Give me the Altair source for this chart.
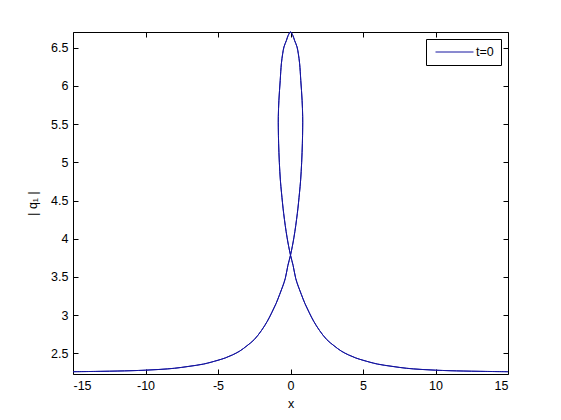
import altair as alt
import pandas as pd

# Path of the loop curve, in drawing order
tail_left_x = [-15, -13, -11, -10, -9, -8, -7, -6, -5, -4.5, -4, -3.5, -3, -2.5, -2, -1.6, -1.3, -1.0, -0.75, -0.55, -0.36, -0.18, 0]
tail_left_y = [2.26, 2.265, 2.273, 2.28, 2.29, 2.305, 2.33, 2.36, 2.41, 2.44, 2.48, 2.53, 2.60, 2.68, 2.80, 2.92, 3.03, 3.15, 3.27, 3.37, 3.48, 3.65, 3.785]
loop_right_x = [0.24, 0.47, 0.62, 0.70, 0.77, 0.82, 0.84, 0.84, 0.80, 0.71, 0.63, 0.54, 0.45, 0.28, 0.16, 0]
loop_right_y = [4.02, 4.33, 4.60, 4.77, 5.00, 5.25, 5.45, 5.60, 5.81, 6.07, 6.29, 6.42, 6.51, 6.595, 6.66, 6.705]

x_ticks = [-15, -10, -5, 0, 5, 10, 15]
y_ticks = [2.5, 3, 3.5, 4, 4.5, 5, 5.5, 6, 6.5]
series_name = "t=0"

# assemble path: left tail -> right side of loop (up) -> left side (down) -> right tail
px = tail_left_x + loop_right_x
py = tail_left_y + loop_right_y
px += [-v for v in reversed(loop_right_x[:-1])] + [0]
py += list(reversed(loop_right_y[:-1])) + [3.785]
px += [-v for v in reversed(tail_left_x[:-1])]
py += list(reversed(tail_left_y[:-1]))

df = pd.DataFrame({"x": px, "y": py, "order": range(len(px)), "series": series_name})

FONT = "Liberation Sans"
FS = 12.5
COL = "#1414a0"

xs = alt.Scale(domain=[-15, 15], nice=False, zero=False)
ys = alt.Scale(domain=[2.23, 6.705], nice=False, zero=False)

common_axis = dict(grid=False, domain=False, tickSize=5, offset=-5, tickColor="black",
                   labelColor="black", labelFont=FONT, labelFontSize=FS, titleFont=FONT,
                   titleFontSize=FS, titleColor="black", titleFontWeight="normal")

main = alt.Chart(df).mark_line(strokeWidth=1, interpolate="catmull-rom").encode(
    x=alt.X("x:Q", scale=xs, axis=alt.Axis(orient="bottom", values=x_ticks, labelExpr="'' + datum.value",
                                           labelPadding=5, title="x", titlePadding=6, **common_axis)),
    y=alt.Y("y:Q", scale=ys, axis=alt.Axis(orient="left", values=y_ticks, labelExpr="'' + datum.value",
                                           labelPadding=5, title="| q₁ |", titlePadding=11, **common_axis)),
    color=alt.Color("series:N", scale=alt.Scale(range=[COL]),
                    legend=alt.Legend(title=None, orient="top-right", offset=7,
                                      symbolType="M-0.583,0H5.75", symbolSize=144,
                                      symbolStrokeWidth=1, labelFont=FONT,
                                      labelFontSize=FS, labelColor="black", strokeColor="black",
                                      fillColor="white", padding=6.5, labelOffset=30.5)),
    order="order:Q",
)

mirror = alt.Chart(df).mark_line(strokeWidth=1, interpolate="catmull-rom").encode(
    x=alt.X("x:Q", scale=xs, axis=alt.Axis(orient="top", values=x_ticks, labels=False, title=None, **common_axis)),
    y=alt.Y("y:Q", scale=ys, axis=alt.Axis(orient="right", values=y_ticks, labels=False, title=None, **common_axis)),
    color=alt.value(COL),
    order="order:Q",
)

chart = alt.layer(main, mirror).resolve_axis(x="independent", y="independent").properties(
    width=435, height=342,
    autosize=alt.AutoSizeParams(type="none"),
    padding={"left": 65, "top": 24, "right": 45, "bottom": 36},
    background="white",
).configure_view(stroke="black", strokeWidth=1)

chart.save("out.html", embed_options={"renderer": "svg", "actions": False})
